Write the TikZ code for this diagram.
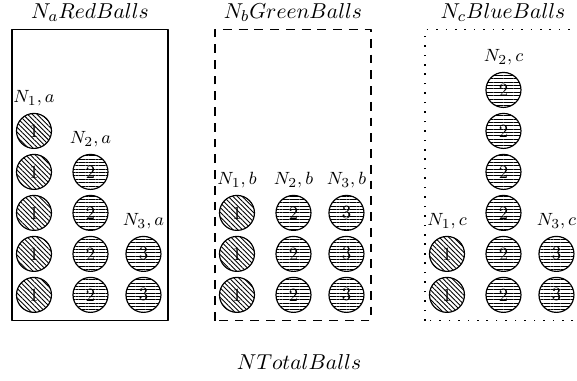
\documentclass[tikz,border=0pt]{standalone}
\usetikzlibrary{patterns.meta}
\tikzset{
	ball/.style={circle, draw, semithick, minimum size=0.625cm, inner sep=0pt},
	ballone/.style={ball, pattern={Lines[angle=-45, distance=1.7pt, line width=0.45pt]}},
	balltwo/.style={ball, pattern={Lines[angle=0, distance=1.7pt, line width=0.45pt]}},
	ballthree/.style={balltwo},
	head/.style={font=\fontsize{11.4}{13}\selectfont}
}
\begin{document}
\begin{tikzpicture}[line join=round, font=\fontsize{9.5}{11}\selectfont]
			\useasboundingbox (0,0) rectangle (10.304,6.786);
			% the three boxes
			\draw[thick] (0.214,1.06) rectangle (3.0,6.26);
			\draw[thick, dash pattern=on 4.5pt off 3.5pt] (3.839,1.06) rectangle (6.625,6.26);
			\draw[thick, loosely dotted] (7.589,1.06) rectangle (10.375,6.26);
			% balls per box and column
			\foreach \b/\L/\na/\nb/\nc/\col in {a/0.214/5/4/2/Red, b/3.839/3/3/3/Green, c/7.589/2/6/2/Blue} {
				\node[head] (t\b) at (\L+1.393, 6.56) {$N_\b \col Balls$};
				\foreach \k/\n/\dx/\st in {1/\na/0.393/ballone, 2/\nb/1.402/balltwo, 3/\nc/2.348/ballthree} {
					\foreach \r in {1,...,\n} {
						\node[\st] (\b\k\r) at (\L+\dx, 1.52+0.732*\r-0.732) {\k};
					}
					\node[above] (n\b\k) at (\b\k\n.north) {$N_\k, \b$};
				}
			}
			\node[head] (tot) at (5.34,0.32) {$NTotalBalls$};
		\end{tikzpicture}
\end{document}
